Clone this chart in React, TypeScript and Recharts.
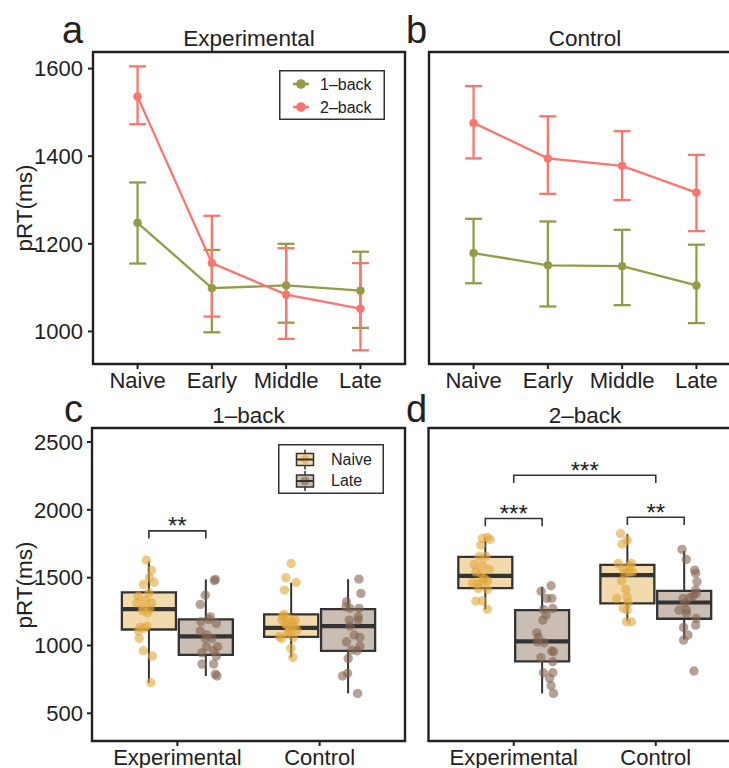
import React from 'react';
import {
  ComposedChart,
  XAxis,
  YAxis,
  Line,
  ErrorBar,
  Scatter,
  ReferenceArea,
  ReferenceLine,
  Legend,
} from 'recharts';

const FONT = '"Liberation Sans", Arial, Helvetica, sans-serif';
const INK = '#222222';
const OLIVE = '#949B47';
const SALMON = '#F8766D';
const NAIVE_FILL = '#F2DAAC';
const LATE_FILL = '#C9BDB4';
const NAIVE_PT = '#E3A63A';
const LATE_PT = '#836450';

// ---- Panels a/b: mean pRT per training stage with error bars ----
const stages = ['Naive', 'Early', 'Middle', 'Late'];

const expOneBackMean = [1248, 1099, 1105, 1093];
const expOneBackLow = [1155, 998, 1020, 1008];
const expOneBackHigh = [1340, 1186, 1200, 1182];
const expTwoBackMean = [1536, 1156, 1084, 1052];
const expTwoBackLow = [1473, 1034, 983, 957];
const expTwoBackHigh = [1605, 1264, 1190, 1156];

const ctlOneBackMean = [1179, 1151, 1149, 1105];
const ctlOneBackLow = [1110, 1057, 1060, 1019];
const ctlOneBackHigh = [1257, 1251, 1232, 1198];
const ctlTwoBackMean = [1476, 1395, 1378, 1317];
const ctlTwoBackLow = [1395, 1314, 1300, 1229];
const ctlTwoBackHigh = [1560, 1491, 1457, 1403];

const lineTicks = [1000, 1200, 1400, 1600];
const lineSeriesNames = ['1\u2013back', '2\u2013back'];

// ---- Panels c/d: Naive vs Late per group ----
const groups = ['Experimental', 'Control'];
const sessions = ['Naive', 'Late'];
const boxTicks = [500, 1000, 1500, 2000, 2500];

// [lower whisker, Q1, median, Q3, upper whisker], one row per group
const oneBackNaiveStats = [[725, 1118, 1268, 1391, 1621], [912, 1064, 1130, 1229, 1462]];
const oneBackLateStats = [[775, 931, 1067, 1192, 1487], [647, 961, 1143, 1268, 1489]];
const twoBackNaiveStats = [[1266, 1423, 1513, 1653, 1793], [1180, 1310, 1518, 1594, 1820]];
const twoBackLateStats = [[647, 883, 1030, 1261, 1432], [1045, 1197, 1317, 1403, 1697]];

// individual participants (pRT) and their horizontal jitter
const oneBackExpNaiveRT = [1629, 1555, 1501, 1450, 1465, 1388, 1364, 1314, 1314, 1334, 1280, 1266, 1256, 1241, 1133, 1143, 1108, 1126, 1052, 961, 922, 725];
const oneBackExpNaiveJitter = [-0.018, 0.018, 0.004, -0.039, 0.036, 0.001, -0.074, -0.085, 0.018, -0.022, -0.039, 0.006, -0.046, -0.011, -0.062, -0.015, -0.074, -0.034, -0.069, -0.039, 0.025, 0.013];
const oneBackExpLateRT = [1487, 1478, 1371, 1303, 1211, 1175, 1192, 1163, 1077, 1052, 991, 991, 946, 961, 922, 863, 863, 789, 775, 1052, 1108];
const oneBackExpLateJitter = [0.067, 0.06, -0.004, -0.039, 0.032, -0.034, 0.02, 0.074, 0.008, 0.043, 0.004, 0.083, -0.027, 0.055, 0.074, -0.027, 0.055, 0.067, 0.078, -0.004, -0.039];
const oneBackCtlNaiveRT = [1604, 1499, 1465, 1408, 1229, 1200, 1187, 1163, 1143, 1126, 1114, 1089, 1052, 1060, 979, 912, 1150, 1175, 1218, 1187, 1101, 1065];
const oneBackCtlNaiveJitter = [0, -0.037, 0.035, -0.047, -0.049, -0.019, -0.066, -0.042, 0.021, -0.007, 0.04, -0.026, -0.066, 0.016, -0.002, 0.012, -0.03, 0.005, -0.059, 0.028, -0.012, -0.082];
const oneBackCtlLateRT = [1489, 1384, 1322, 1285, 1273, 1273, 1211, 1187, 1187, 1143, 1077, 1060, 1027, 996, 961, 966, 905, 795, 775, 647];
const oneBackCtlLateJitter = [0.076, 0.09, -0.011, -0.015, 0.013, 0.078, 0.071, 0.008, 0.071, 0.013, 0.043, 0.083, -0.011, 0.083, 0.064, 0.025, 0.001, -0.004, -0.039, 0.067];

const twoBackExpNaiveRT = [1796, 1789, 1781, 1739, 1658, 1658, 1597, 1592, 1560, 1543, 1531, 1494, 1462, 1457, 1469, 1476, 1420, 1413, 1327, 1329, 1266];
const twoBackExpNaiveJitter = [0.015, -0.02, 0.034, -0.032, -0.043, 0.004, -0.078, -0.02, 0.027, -0.067, -0.032, -0.008, -0.09, -0.055, -0.02, 0.015, -0.048, 0.015, -0.067, -0.02, 0.015];
const twoBackExpLateRT = [1440, 1400, 1347, 1347, 1273, 1266, 1224, 1187, 1093, 1060, 1027, 1020, 959, 954, 910, 880, 799, 799, 758, 703, 647];
const twoBackExpLateJitter = [0.063, -0.007, 0.033, 0.068, 0.075, 0.009, 0.028, 0.005, -0.037, -0.026, -0.033, 0.014, 0.068, 0.08, -0.009, 0.075, 0.009, 0.075, 0.052, 0.063, 0.08];
const twoBackCtlNaiveRT = [1825, 1776, 1747, 1604, 1604, 1568, 1543, 1543, 1476, 1413, 1359, 1347, 1314, 1273, 1261, 1175, 1175, 1585, 1530];
const twoBackCtlNaiveJitter = [-0.048, -0.001, -0.036, -0.064, 0.029, -0.029, 0.013, 0.036, -0.041, -0.011, -0.001, -0.076, 0.006, -0.029, -0.001, -0.006, 0.029, 0.018, -0.018];
const twoBackCtlLateRT = [1708, 1634, 1555, 1531, 1469, 1408, 1384, 1364, 1347, 1352, 1314, 1261, 1261, 1236, 1200, 1150, 1133, 1077, 1040, 812];
const twoBackCtlLateJitter = [-0.015, 0.015, 0.074, 0.081, 0.09, 0.081, 0.085, 0.062, -0.008, 0.039, 0.004, -0.036, 0.015, 0.015, 0.085, 0.081, -0.004, 0.027, -0.004, 0.069];

// significance brackets: group/session indices (session -1 = group centre)
const oneBackBrackets = [{ g1: 0, s1: 0, g2: 0, s2: 1, y: 1845, label: '**' }];
const twoBackBrackets = [
  { g1: 0, s1: 0, g2: 0, s2: 1, y: 1936, label: '***' },
  { g1: 1, s1: 0, g2: 1, s2: 1, y: 1945, label: '**' },
  { g1: 0, s1: -1, g2: 1, s2: -1, y: 2255, label: '***' },
];

// ---- helpers ----
const LINE_DOMAIN: [number, number] = [925.7, 1637.8];
const BOX_DOMAIN: [number, number] = [296, 2603];
const DODGE = 0.2;
const HALF_BOX = 0.19;
const TIP = 57;

const tickText = { fill: INK, fontSize: 22, fontFamily: FONT };
const tickLineStyle = { stroke: INK, strokeWidth: 2 };

const pos = (g: number, s: number) => g + 1 + (s < 0 ? 0 : s === 0 ? -DODGE : DODGE);

function lineRows(mean: number[], low: number[], high: number[]) {
  return stages.map((_, i) => ({ x: i + 1, mean: mean[i], err: [mean[i] - low[i], high[i] - mean[i]] }));
}

function pointRows(g: number, s: number, rt: number[], jitter: number[]) {
  return rt.map((v, i) => ({ x: pos(g, s) + jitter[i], y: v }));
}

const dotShape = (color: string) => (p: any) =>
  p.cx == null ? <g /> : <circle cx={p.cx} cy={p.cy} r={4.7} fill={color} fillOpacity={0.6} />;

const starShape = (p: any) =>
  p.cx == null ? (
    <g />
  ) : (
    <text x={p.cx} y={p.cy + 3.5} textAnchor="middle" fontSize={24} fontFamily={FONT} fill={INK}>
      {p.payload.label}
    </text>
  );

function LineLegend() {
  const colors = [OLIVE, SALMON];
  return (
    <svg width={106} height={50} style={{ display: 'block' }}>
      <rect x={0.75} y={0.75} width={104.5} height={48.5} fill="#fff" stroke="#333" strokeWidth={1.5} />
      {lineSeriesNames.map((name, i) => (
        <g key={name}>
          <line x1={14} x2={30} y1={14 + i * 23} y2={14 + i * 23} stroke={colors[i]} strokeWidth={2.5} />
          <circle cx={22} cy={14 + i * 23} r={4.8} fill={colors[i]} />
          <text x={41} y={19.5 + i * 23} fontSize={16} fontFamily={FONT} fill={INK}>
            {name}
          </text>
        </g>
      ))}
    </svg>
  );
}

function BoxLegend() {
  const fills = [NAIVE_FILL, LATE_FILL];
  const pts = [NAIVE_PT, LATE_PT];
  return (
    <svg width={106} height={50} style={{ display: 'block' }}>
      <rect x={0.75} y={0.75} width={104.5} height={48.5} fill="#fff" stroke="#333" strokeWidth={1.5} />
      {sessions.map((name, i) => {
        const cy = 15.5 + i * 21.5;
        return (
          <g key={name}>
            <line x1={27} x2={27} y1={cy - 10} y2={cy + 10} stroke="#333" strokeWidth={1.5} />
            <rect x={18.5} y={cy - 6} width={17} height={12} fill={fills[i]} stroke="#333" strokeWidth={1.5} />
            <circle cx={27} cy={cy} r={4.5} fill={pts[i]} fillOpacity={0.6} />
            <line x1={18.5} x2={35.5} y1={cy} y2={cy} stroke="#333" strokeWidth={2} />
            <text x={53} y={cy + 5} fontSize={16} fontFamily={FONT} fill={INK}>
              {name}
            </text>
          </g>
        );
      })}
    </svg>
  );
}

type LinePanelProps = {
  rows: { data: any[]; color: string; name: string }[];
  width: number;
  marginLeft: number;
  marginRight: number;
  showY: boolean;
  legend?: boolean;
};

function LinePanel({ rows, width, marginLeft, marginRight, showY, legend }: LinePanelProps) {
  return (
    <ComposedChart width={width} height={400} margin={{ top: 52, right: marginRight, bottom: 0, left: marginLeft }}>
      <XAxis
        type="number"
        dataKey="x"
        domain={[0.4, 4.6]}
        allowDataOverflow
        ticks={[1, 2, 3, 4]}
        interval={0}
        tickFormatter={(v: number) => stages[v - 1]}
        height={36}
        tickSize={5}
        tickMargin={3}
        tick={tickText}
        tickLine={tickLineStyle}
        axisLine={false}
      />
      <YAxis
        type="number"
        domain={LINE_DOMAIN}
        allowDataOverflow
        ticks={lineTicks}
        interval={0}
        width={showY ? 93 : 0}
        hide={!showY}
        tickSize={5}
        tickMargin={5}
        tick={tickText}
        tickLine={tickLineStyle}
        axisLine={false}
      />
      {rows.map((r) => (
        <Line
          key={r.name}
          data={r.data}
          dataKey="mean"
          name={r.name}
          stroke={r.color}
          strokeWidth={2.3}
          dot={{ r: 4, fill: r.color, stroke: r.color, strokeWidth: 0.5 }}
          activeDot={false}
          isAnimationActive={false}
        >
          <ErrorBar dataKey="err" direction="y" width={8.5} stroke={r.color} strokeWidth={2.3} isAnimationActive={false} />
        </Line>
      ))}
      <ReferenceArea
        x1={0.4}
        x2={4.6}
        y1={LINE_DOMAIN[0]}
        y2={LINE_DOMAIN[1]}
        fill="none"
        fillOpacity={0}
        stroke={INK}
        strokeWidth={2.4}
        ifOverflow="visible"
      />
      {legend ? (
        <Legend
          layout="vertical"
          align="center"
          verticalAlign="middle"
          content={() => <LineLegend />}
          wrapperStyle={{ left: 279, top: 70, width: 106, height: 50 }}
        />
      ) : null}
    </ComposedChart>
  );
}

type BoxPanelProps = {
  naiveStats: number[][];
  lateStats: number[][];
  points: { data: any[]; color: string; key: string }[];
  brackets: { g1: number; s1: number; g2: number; s2: number; y: number; label: string }[];
  width: number;
  marginLeft: number;
  marginRight: number;
  showY: boolean;
  legend?: boolean;
};

function BoxPanel({ naiveStats, lateStats, points, brackets, width, marginLeft, marginRight, showY, legend }: BoxPanelProps) {
  const boxes: any[] = [];
  [naiveStats, lateStats].forEach((stats, s) => {
    stats.forEach((st, g) => {
      const c = pos(g, s);
      const [lo, q1, med, q3, hi] = st;
      const fill = s === 0 ? NAIVE_FILL : LATE_FILL;
      boxes.push(
        <ReferenceLine key={`wu${s}${g}`} segment={[{ x: c, y: q3 }, { x: c, y: hi }]} stroke="#333" strokeWidth={2} ifOverflow="visible" />,
        <ReferenceLine key={`wl${s}${g}`} segment={[{ x: c, y: lo }, { x: c, y: q1 }]} stroke="#333" strokeWidth={2} ifOverflow="visible" />,
        <ReferenceArea
          key={`b${s}${g}`}
          x1={c - HALF_BOX}
          x2={c + HALF_BOX}
          y1={q1}
          y2={q3}
          fill={fill}
          fillOpacity={1}
          stroke="#333"
          strokeWidth={2.3}
          ifOverflow="visible"
        />,
        <ReferenceLine
          key={`m${s}${g}`}
          segment={[{ x: c - HALF_BOX, y: med }, { x: c + HALF_BOX, y: med }]}
          stroke="#333"
          strokeWidth={4.2}
          ifOverflow="visible"
        />
      );
    });
  });

  const bracketLines = brackets.map((b, i) => {
    const x1 = pos(b.g1, b.s1);
    const x2 = pos(b.g2, b.s2);
    const data = [
      { x: x1, y: b.y - TIP },
      { x: x1, y: b.y },
      { x: x2, y: b.y },
      { x: x2, y: b.y - TIP },
    ];
    return (
      <Line
        key={`br${i}`}
        data={data}
        dataKey="y"
        stroke="#333"
        strokeWidth={1.6}
        dot={false}
        activeDot={false}
        isAnimationActive={false}
        legendType="none"
      />
    );
  });
  const starData = brackets.map((b) => ({ x: (pos(b.g1, b.s1) + pos(b.g2, b.s2)) / 2, y: b.y, label: b.label }));

  return (
    <ComposedChart width={width} height={378} margin={{ top: 38, right: marginRight, bottom: 0, left: marginLeft }}>
      <XAxis
        type="number"
        dataKey="x"
        domain={[0.4, 2.6]}
        allowDataOverflow
        ticks={[1, 2]}
        interval={0}
        tickFormatter={(v: number) => groups[v - 1]}
        height={27}
        tickSize={5}
        tickMargin={3.5}
        tick={tickText}
        tickLine={tickLineStyle}
        axisLine={false}
      />
      <YAxis
        type="number"
        dataKey="y"
        domain={BOX_DOMAIN}
        allowDataOverflow
        ticks={boxTicks}
        interval={0}
        width={showY ? 92 : 0}
        hide={!showY}
        tickSize={5}
        tickMargin={4}
        tick={tickText}
        tickLine={tickLineStyle}
        axisLine={false}
      />
      {boxes}
      {points.map((p) => (
        <Scatter key={p.key} data={p.data} dataKey="y" shape={dotShape(p.color)} isAnimationActive={false} legendType="none" />
      ))}
      {bracketLines}
      <Scatter data={starData} dataKey="y" shape={starShape} isAnimationActive={false} legendType="none" />
      <ReferenceArea
        x1={0.4}
        x2={2.6}
        y1={BOX_DOMAIN[0]}
        y2={BOX_DOMAIN[1]}
        fill="none"
        fillOpacity={0}
        stroke={INK}
        strokeWidth={2.4}
        ifOverflow="visible"
      />
      {legend ? (
        <Legend
          layout="vertical"
          align="center"
          verticalAlign="middle"
          content={() => <BoxLegend />}
          wrapperStyle={{ left: 278, top: 54, width: 106, height: 50 }}
        />
      ) : null}
    </ComposedChart>
  );
}

const textStyle = { fontFamily: FONT, fill: INK } as const;

export default function App() {
  const expRows = [
    { name: lineSeriesNames[0], color: OLIVE, data: lineRows(expOneBackMean, expOneBackLow, expOneBackHigh) },
    { name: lineSeriesNames[1], color: SALMON, data: lineRows(expTwoBackMean, expTwoBackLow, expTwoBackHigh) },
  ];
  const ctlRows = [
    { name: lineSeriesNames[0], color: OLIVE, data: lineRows(ctlOneBackMean, ctlOneBackLow, ctlOneBackHigh) },
    { name: lineSeriesNames[1], color: SALMON, data: lineRows(ctlTwoBackMean, ctlTwoBackLow, ctlTwoBackHigh) },
  ];
  const oneBackPoints = [
    { key: 'en', color: NAIVE_PT, data: pointRows(0, 0, oneBackExpNaiveRT, oneBackExpNaiveJitter) },
    { key: 'el', color: LATE_PT, data: pointRows(0, 1, oneBackExpLateRT, oneBackExpLateJitter) },
    { key: 'cn', color: NAIVE_PT, data: pointRows(1, 0, oneBackCtlNaiveRT, oneBackCtlNaiveJitter) },
    { key: 'cl', color: LATE_PT, data: pointRows(1, 1, oneBackCtlLateRT, oneBackCtlLateJitter) },
  ];
  const twoBackPoints = [
    { key: 'en', color: NAIVE_PT, data: pointRows(0, 0, twoBackExpNaiveRT, twoBackExpNaiveJitter) },
    { key: 'el', color: LATE_PT, data: pointRows(0, 1, twoBackExpLateRT, twoBackExpLateJitter) },
    { key: 'cn', color: NAIVE_PT, data: pointRows(1, 0, twoBackCtlNaiveRT, twoBackCtlNaiveJitter) },
    { key: 'cl', color: LATE_PT, data: pointRows(1, 1, twoBackCtlLateRT, twoBackCtlLateJitter) },
  ];

  return (
    <div
      style={{
        position: 'absolute',
        left: 0,
        top: 0,
        width: 729,
        height: 768,
        overflow: 'hidden',
        background: '#ffffff',
        fontFamily: FONT,
      }}
    >
      <div style={{ position: 'absolute', left: 0, top: 0 }}>
        <LinePanel rows={expRows} width={420} marginLeft={0} marginRight={15} showY legend />
      </div>
      <div style={{ position: 'absolute', left: 405, top: 0 }}>
        <LinePanel rows={ctlRows} width={360} marginLeft={24} marginRight={24} showY={false} />
      </div>
      <div style={{ position: 'absolute', left: 0, top: 390 }}>
        <BoxPanel
          naiveStats={oneBackNaiveStats}
          lateStats={oneBackLateStats}
          points={oneBackPoints}
          brackets={oneBackBrackets}
          width={420}
          marginLeft={0}
          marginRight={15}
          showY
          legend
        />
      </div>
      <div style={{ position: 'absolute', left: 405, top: 390 }}>
        <BoxPanel
          naiveStats={twoBackNaiveStats}
          lateStats={twoBackLateStats}
          points={twoBackPoints}
          brackets={twoBackBrackets}
          width={360}
          marginLeft={23.5}
          marginRight={24}
          showY={false}
        />
      </div>
      <svg width={729} height={768} style={{ position: 'absolute', left: 0, top: 0, pointerEvents: 'none' }}>
        <text x={62} y={43} fontSize={38} {...textStyle}>a</text>
        <text x={406} y={43} fontSize={38} {...textStyle}>b</text>
        <text x={64} y={422} fontSize={38} {...textStyle}>c</text>
        <text x={406} y={422} fontSize={38} {...textStyle}>d</text>
        <text x={249} y={46} fontSize={22.5} textAnchor="middle" {...textStyle}>Experimental</text>
        <text x={585} y={46} fontSize={22.5} textAnchor="middle" {...textStyle}>Control</text>
        <text x={248.5} y={423} fontSize={22.5} textAnchor="middle" {...textStyle}>1{'\u2013'}back</text>
        <text x={585} y={423} fontSize={22.5} textAnchor="middle" {...textStyle}>2{'\u2013'}back</text>
        <text transform="translate(32,208) rotate(-90)" fontSize={22.5} textAnchor="middle" {...textStyle}>pRT(ms)</text>
        <text transform="translate(32,585) rotate(-90)" fontSize={22.5} textAnchor="middle" {...textStyle}>pRT(ms)</text>
      </svg>
    </div>
  );
}
